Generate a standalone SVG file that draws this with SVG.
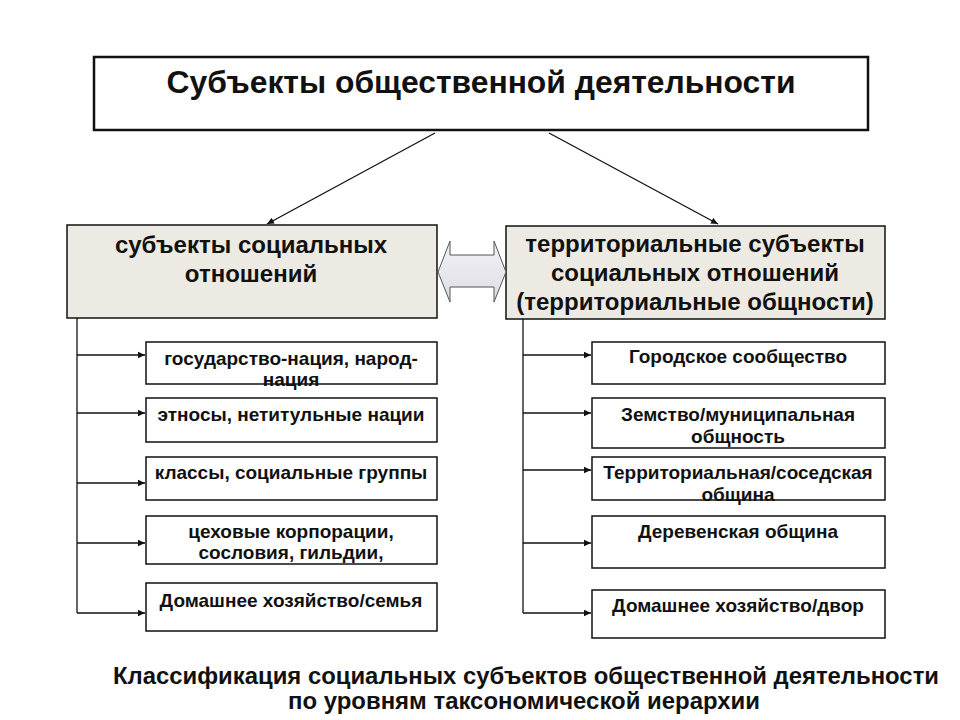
<svg xmlns="http://www.w3.org/2000/svg" width="960" height="720" viewBox="0 0 960 720">
<style>
text{font-family:"Liberation Sans",Arial,sans-serif;font-weight:bold;fill:#111;text-anchor:middle}
.title{font-size:31px}
.hdr{font-size:24px}
.item{font-size:19px}
.cap{font-size:24px}
.box{fill:#fff;stroke:#111;stroke-width:1.5}
.hbox{fill:#ECEAE2;stroke:#111;stroke-width:1.5}
.ln{fill:none;stroke:#111;stroke-width:1.3}
</style>
<defs>
<marker id="ah" markerWidth="8" markerHeight="8" refX="7" refY="4" orient="auto" markerUnits="userSpaceOnUse">
<path d="M0,0.8 L7,4 L0,7.2 Z" fill="#111"/>
</marker>
<linearGradient id="dg" x1="0" y1="0" x2="0" y2="1">
<stop offset="0" stop-color="#F2F2F6"/>
<stop offset="1" stop-color="#DDDDE4"/>
</linearGradient>
</defs>
<rect width="960" height="720" fill="#fff"/>

<g id="title">
<rect x="94" y="57" width="774" height="73" fill="#fff" stroke="#111" stroke-width="2.5"/>
<text class="title" x="481" y="93" textLength="629" lengthAdjust="spacingAndGlyphs">Субъекты общественной деятельности</text>
</g>

<g id="hdr-left">
<rect class="hbox" x="67" y="225" width="370" height="93"/>
<text class="hdr" x="251" y="253">субъекты социальных</text>
<text class="hdr" x="251" y="282">отношений</text>
</g>

<g id="hdr-right">
<rect class="hbox" x="506" y="226" width="379" height="93"/>
<text class="hdr" x="695" y="252">территориальные субъекты</text>
<text class="hdr" x="695" y="281">социальных отношений</text>
<text class="hdr" x="695" y="310">(территориальные общности)</text>
</g>

<g id="double-arrow">
<path d="M438,272 L450,241 L450,255 L494,255 L494,241 L506,272 L494,302 L494,287 L450,287 L450,302 Z" fill="url(#dg)" stroke="#555" stroke-width="1"/>
</g>

<g id="l1"><rect class="box" x="146" y="342" width="291" height="42"/>
<text class="item" x="291" y="365">государство-нация, народ-</text>
<text class="item" x="291" y="386">нация</text></g>
<g id="l2"><rect class="box" x="146" y="398" width="291" height="44"/>
<text class="item" x="291" y="421">этносы, нетитульные нации</text></g>
<g id="l3"><rect class="box" x="146" y="457" width="291" height="43"/>
<text class="item" x="291" y="479">классы, социальные группы</text></g>
<g id="l4"><rect class="box" x="146" y="516" width="291" height="48"/>
<text class="item" x="291" y="538">цеховые корпорации,</text>
<text class="item" x="291" y="559">сословия, гильдии,</text></g>
<g id="l5"><rect class="box" x="146" y="583" width="291" height="48"/>
<text class="item" x="291" y="607">Домашнее хозяйство/семья</text></g>

<g id="r1"><rect class="box" x="592" y="342" width="293" height="42"/>
<text class="item" x="738" y="363">Городское сообщество</text></g>
<g id="r2"><rect class="box" x="592" y="398" width="293" height="50"/>
<text class="item" x="738" y="421">Земство/муниципальная</text>
<text class="item" x="738" y="443">общность</text></g>
<g id="r3"><rect class="box" x="592" y="457" width="293" height="43"/>
<text class="item" x="738" y="479">Территориальная/соседская</text>
<text class="item" x="738" y="501">община</text></g>
<g id="r4"><rect class="box" x="592" y="516" width="293" height="52"/>
<text class="item" x="738" y="538">Деревенская община</text></g>
<g id="r5"><rect class="box" x="592" y="590" width="293" height="48"/>
<text class="item" x="738" y="612">Домашнее хозяйство/двор</text></g>

<g id="connectors">
<line class="ln" x1="435" y1="133" x2="267" y2="224" marker-end="url(#ah)"/>
<line class="ln" x1="549" y1="133" x2="718" y2="224" marker-end="url(#ah)"/>
<line class="ln" x1="77" y1="318" x2="77" y2="613"/>
<line class="ln" x1="77" y1="355" x2="145" y2="355" marker-end="url(#ah)"/>
<line class="ln" x1="77" y1="413" x2="145" y2="413" marker-end="url(#ah)"/>
<line class="ln" x1="77" y1="483" x2="145" y2="483" marker-end="url(#ah)"/>
<line class="ln" x1="77" y1="543" x2="145" y2="543" marker-end="url(#ah)"/>
<line class="ln" x1="77" y1="613" x2="145" y2="613" marker-end="url(#ah)"/>
<line class="ln" x1="523" y1="319" x2="523" y2="613"/>
<line class="ln" x1="523" y1="355" x2="591" y2="355" marker-end="url(#ah)"/>
<line class="ln" x1="523" y1="413" x2="591" y2="413" marker-end="url(#ah)"/>
<line class="ln" x1="523" y1="470" x2="591" y2="470" marker-end="url(#ah)"/>
<line class="ln" x1="523" y1="543" x2="591" y2="543" marker-end="url(#ah)"/>
<line class="ln" x1="523" y1="613" x2="591" y2="613" marker-end="url(#ah)"/>
</g>

<g id="caption">
<text class="cap" x="526" y="684" textLength="826" lengthAdjust="spacingAndGlyphs">Классификация социальных субъектов общественной деятельности</text>
<text class="cap" x="524" y="709" textLength="472" lengthAdjust="spacingAndGlyphs">по уровням таксономической иерархии</text>
</g>
</svg>
